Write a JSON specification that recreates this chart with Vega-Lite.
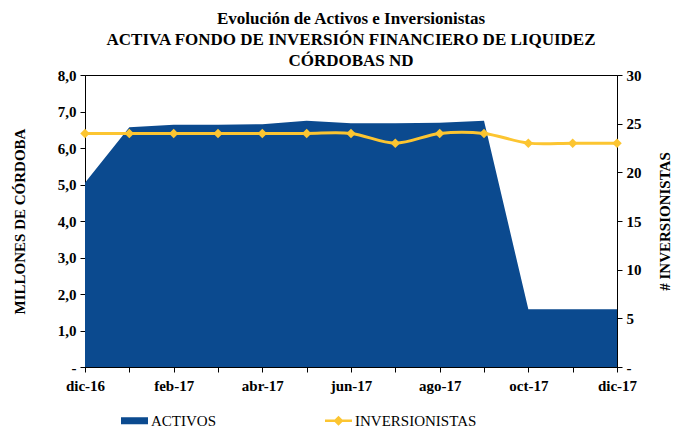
{
  "$schema": "https://vega.github.io/schema/vega-lite/v6.json",
  "width": 532,
  "height": 292,
  "autosize": {"type": "none"},
  "padding": {"left": 85, "top": 75, "right": 57, "bottom": 64},
  "background": "white",
  "config": {
    "font": "Liberation Serif",
    "view": {"stroke": "black", "strokeWidth": 1},
    "axis": {"domainColor": "black", "tickColor": "black", "grid": false, "labelColor": "black", "titleColor": "black", "labelFont": "Liberation Serif", "titleFont": "Liberation Serif", "labelFontWeight": "bold", "labelFontSize": 15, "titleFontSize": 15, "titleFontWeight": "bold", "tickSize": 5}
  },
  "title": {
    "text": ["Evolución de Activos e Inversionistas", "ACTIVA FONDO DE INVERSIÓN FINANCIERO DE LIQUIDEZ", "CÓRDOBAS ND"],
    "font": "Liberation Serif",
    "fontSize": 17,
    "fontWeight": "bold",
    "color": "black",
    "anchor": "middle",
    "lineHeight": 21,
    "offset": -2
  },
  "data": {
    "values": [
      {"mes": "dic-16", "activos": 5.05, "inversionistas": 24},
      {"mes": "ene-17", "activos": 6.57, "inversionistas": 24},
      {"mes": "feb-17", "activos": 6.64, "inversionistas": 24},
      {"mes": "mar-17", "activos": 6.64, "inversionistas": 24},
      {"mes": "abr-17", "activos": 6.65, "inversionistas": 24},
      {"mes": "may-17", "activos": 6.75, "inversionistas": 24},
      {"mes": "jun-17", "activos": 6.68, "inversionistas": 24},
      {"mes": "jul-17", "activos": 6.68, "inversionistas": 23},
      {"mes": "ago-17", "activos": 6.69, "inversionistas": 24},
      {"mes": "sep-17", "activos": 6.75, "inversionistas": 24},
      {"mes": "oct-17", "activos": 1.58, "inversionistas": 23},
      {"mes": "nov-17", "activos": 1.58, "inversionistas": 23},
      {"mes": "dic-17", "activos": 1.58, "inversionistas": 23}
    ]
  },
  "encoding": {
    "x": {
      "field": "mes", "type": "ordinal", "sort": null,
      "scale": {"type": "point", "padding": 0},
      "axis": {"title": null, "labelAngle": 0, "labelPadding": 6,
        "labelExpr": "indexof(['dic-16','feb-17','abr-17','jun-17','ago-17','oct-17','dic-17'], datum.value) >= 0 ? datum.label : ''"}
    }
  },
  "layer": [
    {
      "mark": {"type": "area", "color": "#0B4A8F", "clip": true},
      "encoding": {
        "y": {"field": "activos", "type": "quantitative",
          "scale": {"domain": [0, 8]},
          "axis": {"title": "MILLONES DE CÓRDOBA", "values": [0,1,2,3,4,5,6,7,8], "titlePadding": 30, "labelPadding": 4,
            "labelExpr": "datum.value == 0 ? '-' : replace(format(datum.value, '.1f'), '.', ',')"}},
        "color": {"datum": "ACTIVOS", "type": "nominal",
          "scale": {"domain": ["ACTIVOS", "INVERSIONISTAS"], "range": ["#0B4A8F", "#FCC531"]},
          "legend": {
            "orient": "none", "legendX": 36, "legendY": 332, "direction": "horizontal", "columns": 2,
            "columnPadding": 108, "title": null, "labelFont": "Liberation Serif", "labelFontSize": 15,
            "labelColor": "black", "labelOffset": 3, "symbolSize": 729, "symbolStrokeWidth": 0,
            "encode": {"symbols": {"update": {
              "shape": {"signal": "datum.value === 'ACTIVOS' ? 'M-1,-0.26H1V0.26H-1Z' : 'M-1,-0.09H1V0.09H-1Z M-0.37,0L0,-0.37L0.37,0L0,0.37Z'"},
              "fill": {"signal": "datum.value === 'ACTIVOS' ? '#0B4A8F' : '#FCC531'"},
              "strokeWidth": {"value": 0}
            }}}
          }}
      }
    },
    {
      "mark": {"type": "line", "color": "#FCC531", "strokeWidth": 3, "interpolate": "catmull-rom",
        "point": {"shape": "diamond", "size": 90, "filled": true, "color": "#FCC531"}},
      "encoding": {
        "y": {"field": "inversionistas", "type": "quantitative",
          "scale": {"domain": [0, 30]},
          "axis": {"title": "# INVERSIONISTAS", "orient": "right", "values": [0,5,10,15,20,25,30], "titleAngle": 270, "titlePadding": 31, "labelPadding": 4,
            "labelExpr": "datum.value == 0 ? '-' : datum.label"}},
        "color": {"datum": "INVERSIONISTAS", "type": "nominal"}
      }
    }
  ],
  "resolve": {"scale": {"y": "independent"}}
}
